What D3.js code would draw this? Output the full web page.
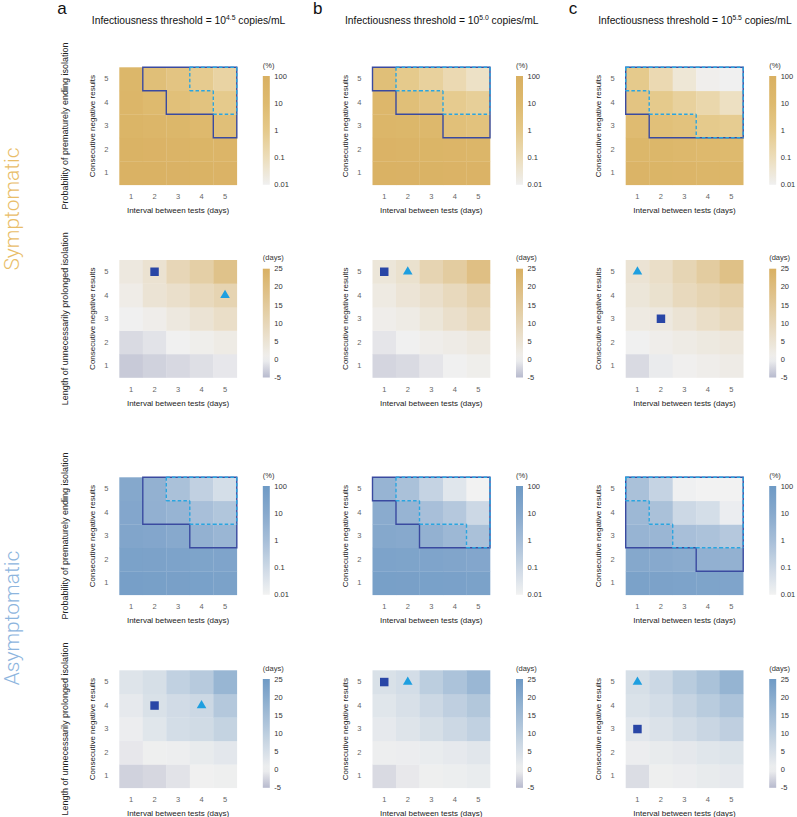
<!DOCTYPE html>
<html><head><meta charset="utf-8">
<script src="https://cdn.jsdelivr.net/npm/d3@7"></script>
<style>body{margin:0;background:#fff} svg{display:block;font-family:"Liberation Sans",Arial,Helvetica,sans-serif}</style>
</head><body><svg id="chart" width="797" height="817"></svg>
<script>
// ---------------- data ----------------
const intervals = [1, 2, 3, 4, 5];            // interval between tests (days)
const consecutive = [1, 2, 3, 4, 5];          // consecutive negative results
const panelLetters = ["a", "b", "c"];
const thresholdExps = ["4.5", "5.0", "5.5"];
const groupNames = ["Symptomatic", "Asymptomatic"];
const probTicks = [100, 10, 1, 0.1, 0.01];
const probTickLabels = ["100", "10", "1", "0.1", "0.01"];
const daysTicks = [25, 20, 15, 10, 5, 0, -5];
const solidLimit = 5;   // % (solid outline)
const dashedLimit = 1;  // % (dashed outline)

// rows = consecutive negative results 1..5, columns = interval 1..5
const symProbA = [[70,65,60,55,50],[55,45,40,35,30],[35,28,22,12,4.5],[25,10,4,2.5,0.9],[20,4.5,2,0.8,0.3]];
const symProbB = [[65,60,55,50,45],[45,40,35,30,25],[25,20,15,4,3],[18,4.5,2,0.8,0.5],[4.5,0.9,0.4,0.15,0.06]];
const symProbC = [[40,35,30,28,25],[22,20,15,12,10],[8,4,3,0.9,0.7],[2,0.9,0.4,0.2,0.07],[0.9,0.15,0.03,0.012,0.01]];
const asymProbA = [[45,40,38,35,30],[30,28,25,22,20],[18,15,10,4,2.5],[15,4.5,3,0.9,0.5],[12,4,0.8,0.2,0.06]];
const asymProbB = [[40,38,35,32,30],[25,22,20,18,15],[12,10,4,2,0.8],[8,3,0.9,0.4,0.1],[3,0.8,0.15,0.03,0.01]];
const asymProbC = [[30,28,25,22,20],[12,10,8,4.5,4],[3,2.5,0.9,0.7,0.4],[2,0.8,0.1,0.06,0.015],[0.8,0.15,0.012,0.01,0.01]];

const symLenA = [[-3.5,-2.8,-2.2,-1.6,-0.8],[-2,-1.2,0,0.8,2],[0,1,3,5,7],[1.5,5,6.5,9,11],[3,5.5,10,13,18]];
const symLenB = [[-2.5,-2,-1,0,0.8],[-1,0,1,1.8,3],[1,2,4,6.5,9],[2.5,4.5,6.5,9,12],[4,6,11,14,19]];
const symLenC = [[-2,-0.5,0.3,1,1.8],[0,1,2,2.8,3.5],[2.5,3,5,7,9],[4,6,9,11,12.5],[5,7,10.5,14,18.5]];
const asymLenA = [[-2.8,-2.3,-1.2,0,0.3],[-0.8,0.3,0.6,1.5,2.5],[0.8,3,5.5,6.2,8.5],[2,4.5,6,7,11.5],[3.5,5,9,11,17]];
const asymLenB = [[-2,-0.7,0.3,0.7,1.3],[0.5,0.8,1.3,2,2.8],[2,3.5,5,7,9],[3,4.7,7,9.5,12],[4.5,5.5,10,13,16.5]];
const asymLenC = [[-1.8,0.3,0.8,1.5,2],[0.8,1.5,2.2,3,3.6],[2.6,4,5.8,7.5,9.5],[4.2,5.5,8,10.5,13],[5,7,10.5,13.5,17.5]];

const probData = [[symProbA, symProbB, symProbC], [asymProbA, asymProbB, asymProbC]];
const lenData = [[symLenA, symLenB, symLenC], [asymLenA, asymLenB, asymLenC]];

// ---------------- styling / layout ----------------
const svg = d3.select("#chart");
const cell = 23.5, size = cell * 5;
const colX0 = i => 119.3 + i * 253.2;
const blockTops = [[67.3, 260], [477.3, 670.3]];
const groupColors = ["#E9BD68", "#8DB5DE"];
const labelCenters = [209, 618];
const probRanges = [
  ["#F0F0F0", "#ECDDBA", "#E5C98A", "#DEBA6E", "#D9B062"],
  ["#F2F2F2", "#CCD8E5", "#A6BED8", "#87A9CD", "#6E9AC5"]
];
const dayHigh = ["#D9B062", "#6E9AC5"];
const dayLow = "#B7BACE";
const solidColor = "#3A4AA0", dashColor = "#2AA5E0";
const squareColor = "#2946A6", triColor = "#1E9FE0";

const defs = svg.append("defs");

function gradient(id, scale, lo, hi) {
  const g = defs.append("linearGradient").attr("id", id)
    .attr("x1", 0).attr("y1", 1).attr("x2", 0).attr("y2", 0);
  d3.range(0, 1.0001, 0.05).forEach(t => {
    g.append("stop").attr("offset", t).attr("stop-color", scale(lo + (hi - lo) * t));
  });
}

function outline(g, inside, x, y, stroke, dash) {
  const p = d3.path();
  const inS = (r, c) => r >= 0 && r < 5 && c >= 0 && c < 5 && inside[r][c];
  for (let r = 0; r < 5; r++) for (let c = 0; c < 5; c++) {
    if (!inside[r][c]) continue;
    const xl = x(intervals[c]), xr = xl + x.bandwidth();
    const yt = y(consecutive[r]), yb = yt + y.bandwidth();
    if (!inS(r + 1, c)) { p.moveTo(xl, yt); p.lineTo(xr, yt); }
    if (!inS(r - 1, c)) { p.moveTo(xl, yb); p.lineTo(xr, yb); }
    if (!inS(r, c - 1)) { p.moveTo(xl, yt); p.lineTo(xl, yb); }
    if (!inS(r, c + 1)) { p.moveTo(xr, yt); p.lineTo(xr, yb); }
  }
  g.append("path").attr("d", p.toString()).attr("fill", "none")
    .attr("stroke", stroke).attr("stroke-width", 1.4)
    .attr("stroke-linecap", dash ? "butt" : "square")
    .attr("stroke-dasharray", dash ? "3.5,2.2" : null);
}

function axes(g, x, y, top, yTitle, outerTitle) {
  const ax = g.append("g").attr("transform", `translate(${x.range()[0]},0)`)
    .call(d3.axisLeft(y).tickSize(0).tickPadding(11));
  ax.select(".domain").remove();
  ax.selectAll("text").attr("font-size", 7.5).attr("fill", "#666");
  ax.attr("font-family", null).attr("font-size", null);
  const bx = g.append("g").attr("transform", `translate(0,${top + size})`)
    .call(d3.axisBottom(x).tickSize(0).tickPadding(9));
  bx.select(".domain").remove();
  bx.selectAll("text").attr("font-size", 7.5).attr("fill", "#666");
  bx.attr("font-family", null).attr("font-size", null);
  const x0 = x.range()[0], cx = x0 + size / 2, cy = top + size / 2;
  g.append("text").attr("x", cx).attr("y", top + size + 28.5).attr("text-anchor", "middle")
    .attr("font-size", 8).attr("fill", "#222").text("Interval between tests (days)");
  g.append("text").attr("transform", `translate(${x0 - 27.5},${cy}) rotate(-90)`)
    .attr("text-anchor", "middle").attr("dy", "0.35em")
    .attr("font-size", 8).attr("fill", "#222").text(yTitle);
  if (outerTitle) {
    g.append("text").attr("transform", `translate(65,${cy}) rotate(-90)`)
      .attr("text-anchor", "middle").attr("dy", "0.35em")
      .attr("font-size", 9).attr("fill", "#222").text(outerTitle);
  }
}

function legend(g, x0, top, gradId, unit, ticks, labels, pos) {
  const bx = x0 + 143.5, bt = top + 8.7, bb = top + size;
  g.append("text").attr("x", bx).attr("y", bt - 11).attr("dy", "0.35em")
    .attr("font-size", 7.5).attr("fill", "#333").text(unit);
  g.append("rect").attr("x", bx).attr("y", bt).attr("width", 7).attr("height", bb - bt)
    .attr("fill", `url(#${gradId})`);
  const s = pos.copy().range([bb, bt]);
  g.selectAll(null).data(ticks).enter().append("text")
    .attr("x", bx + 11.5).attr("y", d => s(d)).attr("dy", "0.35em")
    .attr("font-size", 7.5).attr("fill", "#333").text((d, i) => labels[i]);
}

groupNames.forEach((gname, gi) => {
  const probScale = d3.scaleLinear().domain([-2, -1, 0, 1, 2]).range(probRanges[gi]).clamp(true);
  const dayScale = d3.scaleLinear().domain([-5, 0, 25]).range([dayLow, "#F0F0F0", dayHigh[gi]]).clamp(true);
  gradient("gp" + gi, probScale, -2, 2);
  gradient("gd" + gi, dayScale, -5, 25);

  svg.append("text").attr("transform", `translate(19,${labelCenters[gi]}) rotate(-90)`)
    .attr("text-anchor", "middle").attr("font-size", 21).attr("font-weight", 300)
    .attr("font-family", "Roboto, 'Liberation Sans', sans-serif")
    .attr("fill", groupColors[gi]).text(gname);

  panelLetters.forEach((letter, pi) => {
    const x0 = colX0(pi);
    const x = d3.scaleBand().domain(intervals).range([x0, x0 + size]);
    if (gi === 0) {
      svg.append("text").attr("x", x0 - 62 + pi * 2.5).attr("y", 13.5)
        .attr("font-size", 17).attr("fill", "#111").text(letter);
      const t = svg.append("text").attr("x", x0 - 27.5).attr("y", 24)
        .attr("font-size", 10.3).attr("fill", "#111");
      t.append("tspan").text("Infectiousness threshold = 10");
      t.append("tspan").attr("font-size", 6.8).attr("dy", -4.3).text(thresholdExps[pi]);
      t.append("tspan").attr("dy", 4.3).text(" copies/mL");
    }
    const prob = probData[gi][pi], len = lenData[gi][pi];
    const solid = prob.map(r => r.map(v => v < solidLimit));
    const dashed = prob.map(r => r.map(v => v < dashedLimit));

    // ---- probability heatmap ----
    const top1 = blockTops[gi][0];
    const y1 = d3.scaleBand().domain(consecutive).range([top1 + size, top1]);
    const g1 = svg.append("g");
    const cells1 = [];
    prob.forEach((row, r) => row.forEach((v, c) => cells1.push({r, c, v})));
    g1.selectAll("rect").data(cells1).enter().append("rect")
      .attr("x", d => x(intervals[d.c])).attr("y", d => y1(consecutive[d.r]))
      .attr("width", x.bandwidth() + 0.3).attr("height", y1.bandwidth() + 0.3)
      .attr("fill", d => probScale(Math.log10(d.v)));
    outline(g1, solid, x, y1, solidColor, false);
    outline(g1, dashed, x, y1, dashColor, true);
    axes(g1, x, y1, top1, "Consecutive negative results", pi === 0 ? "Probability of prematurely ending isolation" : null);
    legend(g1, x0, top1, "gp" + gi, "(%)", probTicks.map(Math.log10), probTickLabels,
      d3.scaleLinear().domain([-2, 2]));

    // ---- length heatmap ----
    const top2 = blockTops[gi][1];
    const y2 = d3.scaleBand().domain(consecutive).range([top2 + size, top2]);
    const g2 = svg.append("g");
    const cells2 = [];
    len.forEach((row, r) => row.forEach((v, c) => cells2.push({r, c, v})));
    g2.selectAll("rect").data(cells2).enter().append("rect")
      .attr("x", d => x(intervals[d.c])).attr("y", d => y2(consecutive[d.r]))
      .attr("width", x.bandwidth() + 0.3).attr("height", y2.bandwidth() + 0.3)
      .attr("fill", d => dayScale(d.v));
    // markers: minimum length among cells within each limit
    const best = mask => {
      let b = null;
      cells2.forEach(d => { if (mask[d.r][d.c] && (!b || d.v < b.v)) b = d; });
      return b;
    };
    const sq = best(solid), tr = best(dashed);
    g2.append("path").attr("d", d3.symbol(d3.symbolSquare, 72)())
      .attr("transform", `translate(${x(intervals[sq.c]) + cell / 2},${y2(consecutive[sq.r]) + cell / 2})`)
      .attr("fill", squareColor);
    g2.append("path").attr("d", d3.symbol(d3.symbolTriangle, 40)())
      .attr("transform", `translate(${x(intervals[tr.c]) + cell / 2},${y2(consecutive[tr.r]) + cell / 2})`)
      .attr("fill", triColor);
    axes(g2, x, y2, top2, "Consecutive negative results", pi === 0 ? "Length of unnecessarily prolonged isolation" : null);
    legend(g2, x0, top2, "gd" + gi, "(days)", daysTicks, daysTicks.map(String),
      d3.scaleLinear().domain([-5, 25]));
  });
});
</script>
</body></html>
